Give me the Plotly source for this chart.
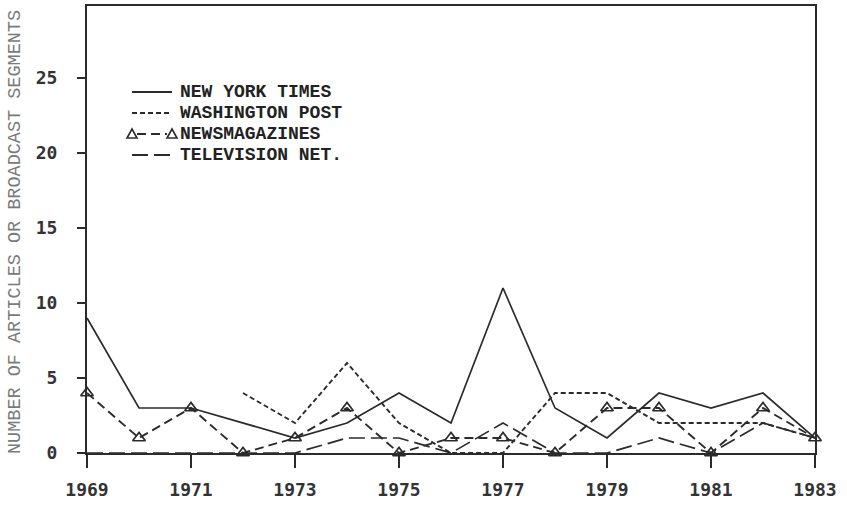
import plotly.graph_objects as go

# Yearly counts of coverage, 1969-1983
years = list(range(1969, 1984))
nyt = [9, 3, 3, 2, 1, 2, 4, 2, 11, 3, 1, 4, 3, 4, 1]
wapo_years = list(range(1972, 1984))
wapo = [4, 2, 6, 2, 0, 0, 4, 4, 2, 2, 2, 1]
newsmag = [4, 1, 3, 0, 1, 3, 0, 1, 1, 0, 3, 3, 0, 3, 1]
tv = [0, 0, 0, 0, 0, 1, 1, 0, 2, 0, 0, 1, 0, 2, 1]

series_names = ["NEW YORK TIMES", "WASHINGTON POST", "NEWSMAGAZINES", "TELEVISION NET."]
x_ticks = [1969, 1971, 1973, 1975, 1977, 1979, 1981, 1983]
y_ticks = [0, 5, 10, 15, 20, 25]

INK = "#2b2b2b"
LABEL_FONT = dict(family="DejaVu Sans Mono", size=18, color="#333333", weight="bold")
DASHES = [None, "5px,3px", "9px,5px", "16px,6px"]

# plot-area geometry in pixels (used to place the key)
W, H = 847, 505
ML, MR, MT, MB = 87, 32, 6, 52
PW, PH = W - ML - MR, H - MT - MB


def px(x):
    return (x - ML) / PW


def py(y):
    return (H - MB - y) / PH


fig = go.Figure()
fig.add_trace(go.Scatter(
    x=years, y=nyt, name=series_names[0], mode="lines",
    line=dict(color=INK, width=1.7), cliponaxis=False))
fig.add_trace(go.Scatter(
    x=wapo_years, y=wapo, name=series_names[1], mode="lines",
    line=dict(color=INK, width=1.9, dash=DASHES[1]), cliponaxis=False))
fig.add_trace(go.Scatter(
    x=years, y=newsmag, name=series_names[2], mode="lines+markers",
    line=dict(color=INK, width=1.9, dash=DASHES[2]),
    marker=dict(symbol="triangle-up-open", size=11, color=INK,
                line=dict(width=1.7, color=INK)),
    cliponaxis=False))
fig.add_trace(go.Scatter(
    x=years, y=tv, name=series_names[3], mode="lines",
    line=dict(color=INK, width=1.7, dash=DASHES[3]), cliponaxis=False))

# key: sample strokes and labels
shapes = []
annotations = []
row_y = [92, 113, 134, 155]
for name, dash, ry in zip(series_names, DASHES, row_y):
    x0, x1 = 132, 172
    if name == "NEWSMAGAZINES":
        x0, x1 = 137, 167
        for cx in (132, 172):
            path = "M {:.5f},{:.5f} L {:.5f},{:.5f} L {:.5f},{:.5f} Z".format(
                px(cx - 5), py(ry + 4), px(cx + 5), py(ry + 4), px(cx), py(ry - 5))
            shapes.append(dict(type="path", path=path, xref="paper", yref="paper",
                               line=dict(color=INK, width=1.6)))
    line = dict(color=INK, width=1.8)
    if dash:
        line["dash"] = dash
    shapes.append(dict(type="line", xref="paper", yref="paper",
                       x0=px(x0), x1=px(x1), y0=py(ry), y1=py(ry), line=line))
    annotations.append(dict(
        text=name, xref="paper", yref="paper", x=px(179), y=py(ry),
        xanchor="left", yanchor="middle", showarrow=False, borderpad=0,
        font=dict(family="Liberation Mono", size=18, color="#222222", weight="bold")))

annotations.append(dict(
    text="NUMBER OF ARTICLES OR BROADCAST SEGMENTS",
    xref="paper", yref="paper", x=px(15), y=py(232),
    xanchor="center", yanchor="middle", textangle=-90, showarrow=False,
    font=dict(family="Liberation Mono", size=18.5, color="#7a7a7a")))

fig.update_layout(
    width=W, height=H,
    margin=dict(l=ML, r=MR, t=MT, b=MB, autoexpand=False),
    paper_bgcolor="white", plot_bgcolor="white",
    showlegend=False,
    xaxis=dict(
        range=[1969, 1983], tickvals=x_ticks, ticktext=[str(v) for v in x_ticks],
        showgrid=False, zeroline=False, showline=True, linecolor=INK, linewidth=2,
        mirror=True, ticks="outside", ticklen=13, tickwidth=2, tickcolor=INK,
        tickfont=LABEL_FONT, ticklabelstandoff=6,
    ),
    yaxis=dict(
        range=[0, 29.8], tickvals=y_ticks, ticktext=[str(v) for v in y_ticks],
        showgrid=False, zeroline=False, showline=True, linecolor=INK, linewidth=2,
        mirror=True, ticks="outside", ticklen=8, tickwidth=2, tickcolor=INK,
        tickfont=LABEL_FONT, ticklabelstandoff=16,
    ),
    shapes=shapes,
    annotations=annotations,
)

fig.write_html("out.html")
